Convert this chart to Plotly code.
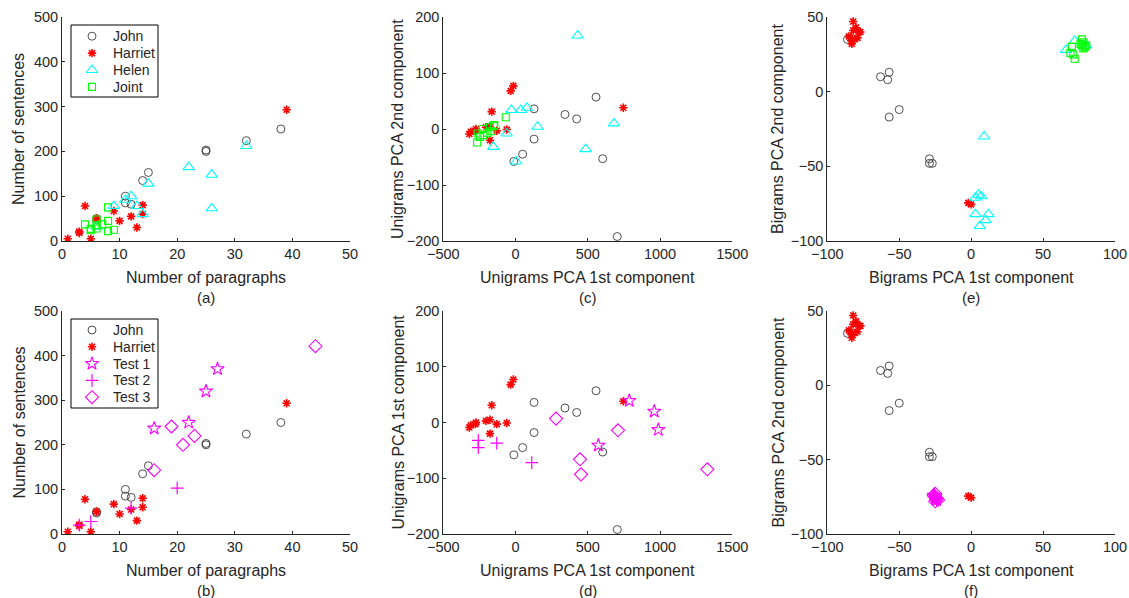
import plotly.graph_objects as go

# ---- Paragraph / sentence counts ----
john_par = [6, 6, 11, 11, 12, 14, 15, 25, 25, 32, 38]
john_sen = [47, 50, 100, 85, 82, 135, 153, 200, 203, 224, 250]
harriet_par = [1, 3, 3, 4, 5, 6, 9, 10, 12, 13, 14, 14, 39]
harriet_sen = [5, 18, 21, 78, 5, 50, 67, 45, 55, 30, 80, 60, 293]
helen_par = [6, 9, 11, 12, 13, 14, 15, 22, 26, 26, 32]
helen_sen = [32, 78, 92, 100, 78, 60, 128, 165, 148, 73, 212]
joint_par = [4, 5, 5, 6, 6, 6, 7, 8, 8, 8, 9]
joint_sen = [37, 27, 24, 28, 35, 48, 37, 75, 45, 22, 25]
test1_par = [16, 22, 25, 27]
test1_sen = [237, 250, 320, 370]
test2_par = [3, 5, 12, 20]
test2_sen = [20, 28, 58, 103]
test3_par = [16, 19, 21, 23, 44]
test3_sen = [143, 241, 200, 220, 421]

# ---- Unigram PCA components ----
john_u1 = [128, 342, 423, 557, 128, 49, -12, 603, 704]
john_u2 = [36, 26, 18, 57, -18, -45, -58, -53, -192]
harriet_u1 = [-15, -34, -165, -177, -205, -274, -278, -310, -320, -177, -130, -61, 746]
harriet_u2 = [77, 68, 31, 5, 3, 0, -3, -5, -9, -20, -3, -1, 38]
helen_u1 = [-29, 37, 79, 152, 485, 681, -154, 5, -61, 430]
helen_u2 = [34, 34, 38, 4, -36, 10, -32, -58, -8, 167]
joint_u1 = [-68, -147, -265, -227, -246, -196, -165, -177, -262, -223, -150]
joint_u2 = [21, 7, -24, 0, -14, -7, -4, 3, -8, -11, 5]
test1_u1 = [787, 960, 988, 573]
test1_u2 = [39, 20, -13, -41]
test2_u1 = [-258, -258, -130, 112]
test2_u2 = [-32, -45, -37, -72]
test3_u1 = [280, 446, 453, 709, 1327]
test3_u2 = [7, -66, -93, -14, -84]

# ---- Bigram PCA components ----
john_b1 = [-86, -63, -57, -58, -57, -50, -29, -29, -27]
john_b2 = [35, 10, 13, 8, -17, -12, -45, -48, -48]
harriet_b1 = [-82, -80, -78, -82, -85, -84, -81, -83, -79, -77, -83, -2, 0]
harriet_b2 = [47, 43, 40, 41, 37, 36, 35, 32, 36, 40, 34, -74.5, -75.5]
helen_b1 = [9, 3, 5, 7, 3, 12, 10, 6, 66, 72, 80]
helen_b2 = [-30, -71, -69, -70, -82, -82, -86, -90, 28, 34, 31]
joint_b1 = [70, 69, 71, 72, 77, 77, 80, 78, 76, 78, 79]
joint_b2 = [30, 26, 25, 22, 35, 31, 31, 29, 32, 33, 30]
test1_b1 = [-26, -25, -24, -25]
test1_b2 = [-74, -75, -77, -76]
test2_b1 = [-26, -25, -24, -26]
test2_b2 = [-73, -76, -77, -75]
test3_b1 = [-26, -25, -24, -25, -23]
test3_b2 = [-74, -73, -76, -78, -77]

W, H = 1129, 598
FONT = "Liberation Sans, Arial, Helvetica, sans-serif"
TXT = "#262626"

STYLE = {
    "John":    dict(symbol="circle-open", size=8, color="#3c3c3c", lw=0.9),
    "Harriet": dict(symbol="asterisk-open", size=7, color="#ff0000", lw=1.6),
    "Helen":   dict(symbol="triangle-up-open", size=10, color="#00ffff", lw=1.1),
    "Joint":   dict(symbol="square-open", size=7, color="#00ff00", lw=1.1),
    "Test 1":  dict(symbol="star-open", size=10, color="#ff00ff", lw=1.1),
    "Test 2":  dict(symbol="cross-thin-open", size=9, color="#ff00ff", lw=1.2),
    "Test 3":  dict(symbol="diamond-open", size=10, color="#ff00ff", lw=1.1),
}

fig = go.Figure()


def marker(name):
    s = STYLE[name]
    return dict(symbol=s["symbol"], size=s["size"], color=s["color"],
                line=dict(color=s["color"], width=s["lw"]))


def add(name, x, y, axis):
    fig.add_trace(go.Scatter(
        x=x, y=y, mode="markers", name=name,
        xaxis="x" + axis, yaxis="y" + axis,
        marker=marker(name), showlegend=False,
        hoverinfo="x+y+name",
    ))


# (a) paragraphs vs sentences, training texts
add("John", john_par, john_sen, "")
add("Harriet", harriet_par, harriet_sen, "")
add("Helen", helen_par, helen_sen, "")
add("Joint", joint_par, joint_sen, "")
# (c) unigram PCA
add("John", john_u1, john_u2, "2")
add("Harriet", harriet_u1, harriet_u2, "2")
add("Helen", helen_u1, helen_u2, "2")
add("Joint", joint_u1, joint_u2, "2")
# (e) bigram PCA
add("John", john_b1, john_b2, "3")
add("Harriet", harriet_b1, harriet_b2, "3")
add("Helen", helen_b1, helen_b2, "3")
add("Joint", joint_b1, joint_b2, "3")
# (b) paragraphs vs sentences, test texts
add("John", john_par, john_sen, "4")
add("Harriet", harriet_par, harriet_sen, "4")
add("Test 1", test1_par, test1_sen, "4")
add("Test 2", test2_par, test2_sen, "4")
add("Test 3", test3_par, test3_sen, "4")
# (d) unigram PCA with tests
add("John", john_u1, john_u2, "5")
add("Harriet", harriet_u1, harriet_u2, "5")
add("Test 1", test1_u1, test1_u2, "5")
add("Test 2", test2_u1, test2_u2, "5")
add("Test 3", test3_u1, test3_u2, "5")
# (f) bigram PCA with tests
add("John", john_b1, john_b2, "6")
add("Harriet", harriet_b1, harriet_b2, "6")
add("Test 1", test1_b1, test1_b2, "6")
add("Test 2", test2_b1, test2_b2, "6")
add("Test 3", test3_b1, test3_b2, "6")

# panel geometry in pixels: (left, right) columns, (top, bottom) rows
cols = [(62, 350), (443.3, 732.3), (827.3, 1115)]
rows = [(17, 241), (311, 534)]
xr = [[0, 50], [-500, 1500], [-100, 100]]
yr = [[0, 500], [-200, 200], [-100, 50]]
xt = [10, 500, 50]
yt = [100, 100, 50]

xtitles = ["Number of paragraphs", "Unigrams PCA 1st component", "Bigrams PCA 1st component"]
ytitles_top = ["Number of sentences", "Unigrams PCA 2nd component", "Bigrams PCA 2nd component"]
ytitles_bot = ["Number of sentences", "Unigrams PCA 1st component", "Bigrams PCA 2nd component"]
letters = [["(a)", "(c)", "(e)"], ["(b)", "(d)", "(f)"]]
ytitle_x = [19, 398, 778]

annotations = []
axis_common = dict(
    showgrid=False, zeroline=False, showline=True, linecolor=TXT, linewidth=1,
    ticks="inside", ticklen=3, tickwidth=1, tickcolor=TXT, automargin=False,
    tickfont=dict(family=FONT, size=14.5, color=TXT), fixedrange=True,
)

layout = {}
for r, (top, bot) in enumerate(rows):
    for c, (left, right) in enumerate(cols):
        n = r * 3 + c + 1
        suffix = "" if n == 1 else str(n)
        layout["xaxis" + suffix] = dict(
            axis_common, domain=[left / W, right / W], range=xr[c], dtick=xt[c],
            tick0=xr[c][0], anchor="y" + suffix,
        )
        layout["yaxis" + suffix] = dict(
            axis_common, domain=[(H - bot) / H, (H - top) / H], range=yr[c], dtick=yt[c],
            tick0=yr[c][0], anchor="x" + suffix,
        )
        cx = (left + right) / 2 / W
        annotations.append(dict(
            text=xtitles[c], x=cx, y=(H - (bot + 36)) / H, xref="paper", yref="paper",
            showarrow=False, font=dict(family=FONT, size=16, color=TXT),
            xanchor="center", yanchor="middle"))
        annotations.append(dict(
            text=letters[r][c], x=cx, y=(H - (bot + 56)) / H, xref="paper", yref="paper",
            showarrow=False, font=dict(family=FONT, size=15, color=TXT),
            xanchor="center", yanchor="middle"))
        ytxt = ytitles_top[c] if r == 0 else ytitles_bot[c]
        annotations.append(dict(
            text=ytxt, x=ytitle_x[c] / W, y=(H - (top + bot) / 2) / H,
            xref="paper", yref="paper", textangle=-90,
            showarrow=False, font=dict(family=FONT, size=16, color=TXT),
            xanchor="center", yanchor="middle"))

# ---- legend boxes, drawn on a full-figure overlay in pixel units ----
layout["xaxis7"] = dict(domain=[0, 1], range=[0, W], visible=False, fixedrange=True,
                        anchor="y7", automargin=False)
layout["yaxis7"] = dict(domain=[0, 1], range=[H, 0], visible=False, fixedrange=True,
                        anchor="x7", automargin=False)

legends = [
    # (box left, top, right, bottom), first row centre, row step, entries
    ((71, 25, 158, 97), 36.2, 16.9, ["John", "Harriet", "Helen", "Joint"]),
    ((71, 319, 158, 408), 330.0, 16.8, ["John", "Harriet", "Test 1", "Test 2", "Test 3"]),
]
for (bl, bt, br, bb), y0, step, names in legends:
    fig.add_trace(go.Scatter(
        x=[bl, br, br, bl, bl], y=[bt, bt, bb, bb, bt], xaxis="x7", yaxis="y7",
        mode="lines", fill="toself", fillcolor="white",
        line=dict(color="#000000", width=1), hoverinfo="skip", showlegend=False,
    ))
    for i, name in enumerate(names):
        yy = y0 + i * step
        fig.add_trace(go.Scatter(
            x=[bl + 21], y=[yy], xaxis="x7", yaxis="y7", mode="markers",
            marker=marker(name), hoverinfo="skip", showlegend=False,
        ))
        annotations.append(dict(
            text=name, x=(bl + 40) / W, y=(H - yy) / H, xref="paper", yref="paper",
            showarrow=False, font=dict(family=FONT, size=14, color=TXT),
            xanchor="left", yanchor="middle"))

fig.update_layout(
    width=W, height=H,
    margin=dict(l=0, r=0, t=0, b=0),
    paper_bgcolor="white", plot_bgcolor="rgba(0,0,0,0)",
    annotations=annotations,
    showlegend=False,
    **layout,
)

fig.write_html("out.html")
